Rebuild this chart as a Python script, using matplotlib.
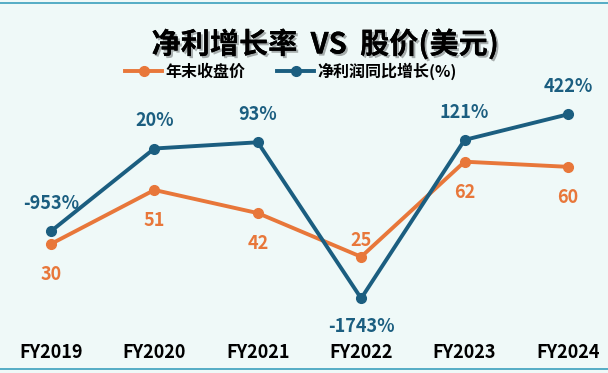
import numpy as np
import matplotlib.pyplot as plt
import matplotlib.patheffects as pe

plt.rcParams['font.family'] = ['Noto Sans CJK SC', 'DejaVu Sans']

years = ['FY2019', 'FY2020', 'FY2021', 'FY2022', 'FY2023', 'FY2024']
price = [30, 51, 42, 25, 62, 60]
growth = [-953, 20, 93, -1743, 121, 422]

orange = '#e8773a'
blue = '#1b5e80'
bg = '#eff9f8'

fig = plt.figure(figsize=(6.08, 3.73), dpi=100)
fig.patch.set_facecolor(bg)
ax = fig.add_axes([0, 0, 1, 1])
ax2 = ax.twinx()
for a in (ax, ax2):
    a.set_facecolor('none')
    for s in a.spines.values():
        s.set_visible(False)
    a.set_yticks([])
ax.set_xticks([])

x = np.arange(len(years))
ax.set_xlim(-0.493, 5.387)
ax.set_ylim(-20.2, 124.9)
ax2.set_ylim(-2621, 1767)

ax.plot(x, price, color=orange, lw=2.8, marker='o', ms=7, label='年末收盘价', zorder=3)
ax2.plot(x, growth, color=blue, lw=2.8, marker='o', ms=7, label='净利润同比增长(%)', zorder=3)

# price labels
for i, v in enumerate(price):
    dy = 12 if v == 25 else -22
    ax.annotate(str(v), (x[i], v), xytext=(0, dy), textcoords='offset points',
                ha='center', va='center', color=orange, fontsize=13, fontweight='bold')

# growth labels
for i, v in enumerate(growth):
    dy = -20 if v == -1743 else 20
    ax2.annotate(f'{v}%', (x[i], v), xytext=(0, dy), textcoords='offset points',
                 ha='center', va='center', color=blue, fontsize=13, fontweight='bold')

# x tick labels
for i, lab in enumerate(years):
    fig.text((51 + i * 103.4) / 608, 1 - 352 / 373, lab, ha='center', va='center',
             fontsize=13, fontweight='bold', color='black')

fig.text(325 / 608, 1 - 44 / 373, '净利增长率  VS  股价(美元)', ha='center', va='center',
         fontsize=21, fontweight='bold', color='black',
         path_effects=[pe.withSimplePatchShadow(offset=(1.5, -1.5), alpha=0.3), pe.Normal()])

h1, l1 = ax.get_legend_handles_labels()
h2, l2 = ax2.get_legend_handles_labels()
fig.legend(h1 + h2, l1 + l2, loc='center', bbox_to_anchor=(291 / 608, 1 - 71 / 373),
           ncol=2, frameon=False, prop={'weight': 'bold', 'size': 11.5},
           handlelength=2.3, handletextpad=0.2, columnspacing=2.0)

# thin teal borders
fig.add_artist(plt.Line2D([0, 1], [1 - 3 / 373, 1 - 3 / 373], color='#3aa0bd', lw=1.2))
fig.add_artist(plt.Line2D([0, 1], [4 / 373, 4 / 373], color='#3aa0bd', lw=1.2))

fig.savefig('out.png', dpi=100, facecolor=bg)
